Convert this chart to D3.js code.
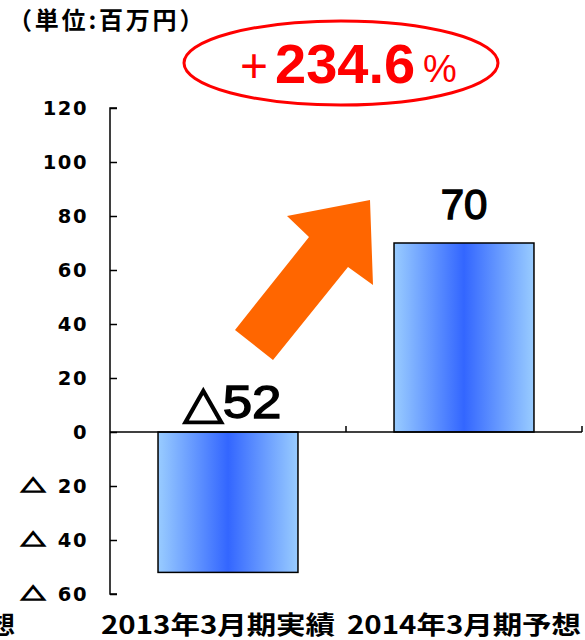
<!DOCTYPE html>
<html><head><meta charset="utf-8">
<script src="https://cdn.jsdelivr.net/npm/d3@7"></script>
<style>body{margin:0;background:#fff}svg{display:block}</style>
</head><body>
<script>
const categories = ["2013年3月期実績", "2014年3月期予想"];
const values = [-52, 70];
const yTicks = [-60, -40, -20, 0, 20, 40, 60, 80, 100, 120];
const unitLabel = "（単位:百万円）";
const changeLabel = "234.6";

const W = 585, H = 640;
const svg = d3.select("body").append("svg").attr("width", W).attr("height", H);

const y = d3.scaleLinear().domain([-60, 120]).range([594, 108]);
const x = d3.scaleBand().domain(categories).range([110, 582]).paddingInner(0.407).paddingOuter(0.2035);

const defs = svg.append("defs");
const g = defs.append("linearGradient").attr("id", "barGrad").attr("x1", "0%").attr("x2", "100%").attr("y1", "0%").attr("y2", "0%");
g.append("stop").attr("offset", "0%").attr("stop-color", "#99ccff");
g.append("stop").attr("offset", "50%").attr("stop-color", "#3366ff");
g.append("stop").attr("offset", "100%").attr("stop-color", "#99ccff");

const fmt = v => v < 0 ? "△" + Math.abs(v) : String(v);

// title
svg.append("text").attr("x", 8).attr("y", 29)
  .attr("font-family", "'Noto Sans CJK JP'").attr("font-weight", "bold").attr("font-size", 24)
  .attr("letter-spacing", 2.8)
  .attr("fill", "#000").text(unitLabel);

// bars
svg.append("g").selectAll("rect").data(categories).join("rect")
  .attr("x", d => x(d)).attr("width", x.bandwidth())
  .attr("y", (d, i) => y(Math.max(0, values[i])))
  .attr("height", (d, i) => Math.abs(y(values[i]) - y(0)))
  .attr("fill", "url(#barGrad)").attr("stroke", "#000").attr("stroke-width", 1.5);

// y axis
const yAxis = d3.axisRight(y).tickValues(yTicks).tickSize(7).tickFormat("");
const ya = svg.append("g").attr("transform", "translate(110,0)").call(yAxis);
ya.selectAll("path,line").attr("stroke", "#000").attr("stroke-width", 1.5);
ya.select(".domain").attr("d", `M7,${y(120)}H0V${y(-60)}H7`);

const tl = svg.append("g").selectAll("g").data(yTicks).join("g");
tl.append("text")
  .attr("x", 88).attr("y", d => y(d)).attr("dy", "0.36em")
  .attr("text-anchor", "end")
  .attr("font-family", "'DejaVu Sans'").attr("font-weight", "bold").attr("font-size", 19.5)
  .attr("letter-spacing", 1.5)
  .attr("fill", "#000").text(d => String(Math.abs(d)));
tl.filter(d => d < 0).append("text")
  .attr("transform", d => `translate(33,${y(d)}) scale(1.2,0.8)`)
  .attr("dy", "0.36em")
  .attr("text-anchor", "middle")
  .attr("font-family", "'Noto Sans CJK JP'").attr("font-weight", "900").attr("font-size", 21)
  .attr("stroke", "#000").attr("stroke-width", 1.6)
  .attr("fill", "#000").text("△");

// x axis line at zero
const xa = svg.append("g");
xa.append("line").attr("x1", 110).attr("x2", 582).attr("y1", y(0)).attr("y2", y(0))
  .attr("stroke", "#000").attr("stroke-width", 1.5);
const bounds = categories.map(c => x(c) + x.bandwidth() + x.step() * x.paddingInner() / 2);
bounds[bounds.length - 1] = x.range()[1];
xa.selectAll("line.t").data(bounds).join("line").attr("class", "t")
  .attr("x1", d => d).attr("x2", d => d).attr("y1", y(0)).attr("y2", y(0) - 6)
  .attr("stroke", "#000").attr("stroke-width", 1.5);

// category labels
const labelDx = [-10, 0];
svg.append("g").selectAll("text").data(categories).join("text")
  .attr("x", (d, i) => x(d) + x.bandwidth() / 2 + labelDx[i]).attr("y", 634)
  .attr("text-anchor", "middle")
  .attr("font-family", "'Noto Sans CJK JP'").attr("font-weight", "bold").attr("font-size", 25)
  .attr("textLength", 234).attr("lengthAdjust", "spacingAndGlyphs")
  .attr("fill", "#000").text(d => d);
// clipped neighbour label at left edge
svg.append("text").attr("x", 15).attr("y", 634).attr("text-anchor", "end")
  .attr("font-family", "'Noto Sans CJK JP'").attr("font-weight", "bold").attr("font-size", 25)
  .attr("fill", "#000").text("予想");

// value labels
const labelOff = [14, 24];
const labelSize = [46, 42];
svg.append("g").selectAll("text").data(categories).join("text")
  .attr("x", (d, i) => x(d) + x.bandwidth() / 2 + (values[i] < 0 ? 4 : 0))
  .attr("y", (d, i) => y(Math.max(0, values[i])) - labelOff[i])
  .attr("text-anchor", "middle")
  .attr("font-family", "'Liberation Sans', Arial").attr("font-size", (d, i) => labelSize[i])
  .attr("stroke", "#000").attr("stroke-width", 1.4)
  .each(function (d, i) { if (values[i] < 0) d3.select(this).attr("textLength", 99).attr("lengthAdjust", "spacingAndGlyphs"); })
  .attr("fill", "#000").text((d, i) => fmt(values[i]));

// arrow
svg.append("path")
  .attr("d", "M235,330 L309,237 L287,216 L370,200 L373,285 L348,267 L273,360 Z")
  .attr("fill", "#ff6600");

// ellipse annotation
svg.append("ellipse").attr("cx", 341).attr("cy", 63).attr("rx", 157).attr("ry", 42)
  .attr("fill", "none").attr("stroke", "#ff0000").attr("stroke-width", 3);
svg.append("text").attr("x", 240).attr("y", 82)
  .attr("font-family", "'Liberation Sans', Arial").attr("font-size", 48).attr("fill", "#ff0000").text("+");
svg.append("text").attr("x", 275).attr("y", 83)
  .attr("font-family", "'Liberation Sans', Arial").attr("font-weight", "bold").attr("font-size", 56).attr("fill", "#ff0000").text(changeLabel);
svg.append("text").attr("x", 423).attr("y", 82)
  .attr("font-family", "'Liberation Sans', Arial").attr("font-size", 38).attr("fill", "#ff0000").text("%");
</script>
</body></html>
